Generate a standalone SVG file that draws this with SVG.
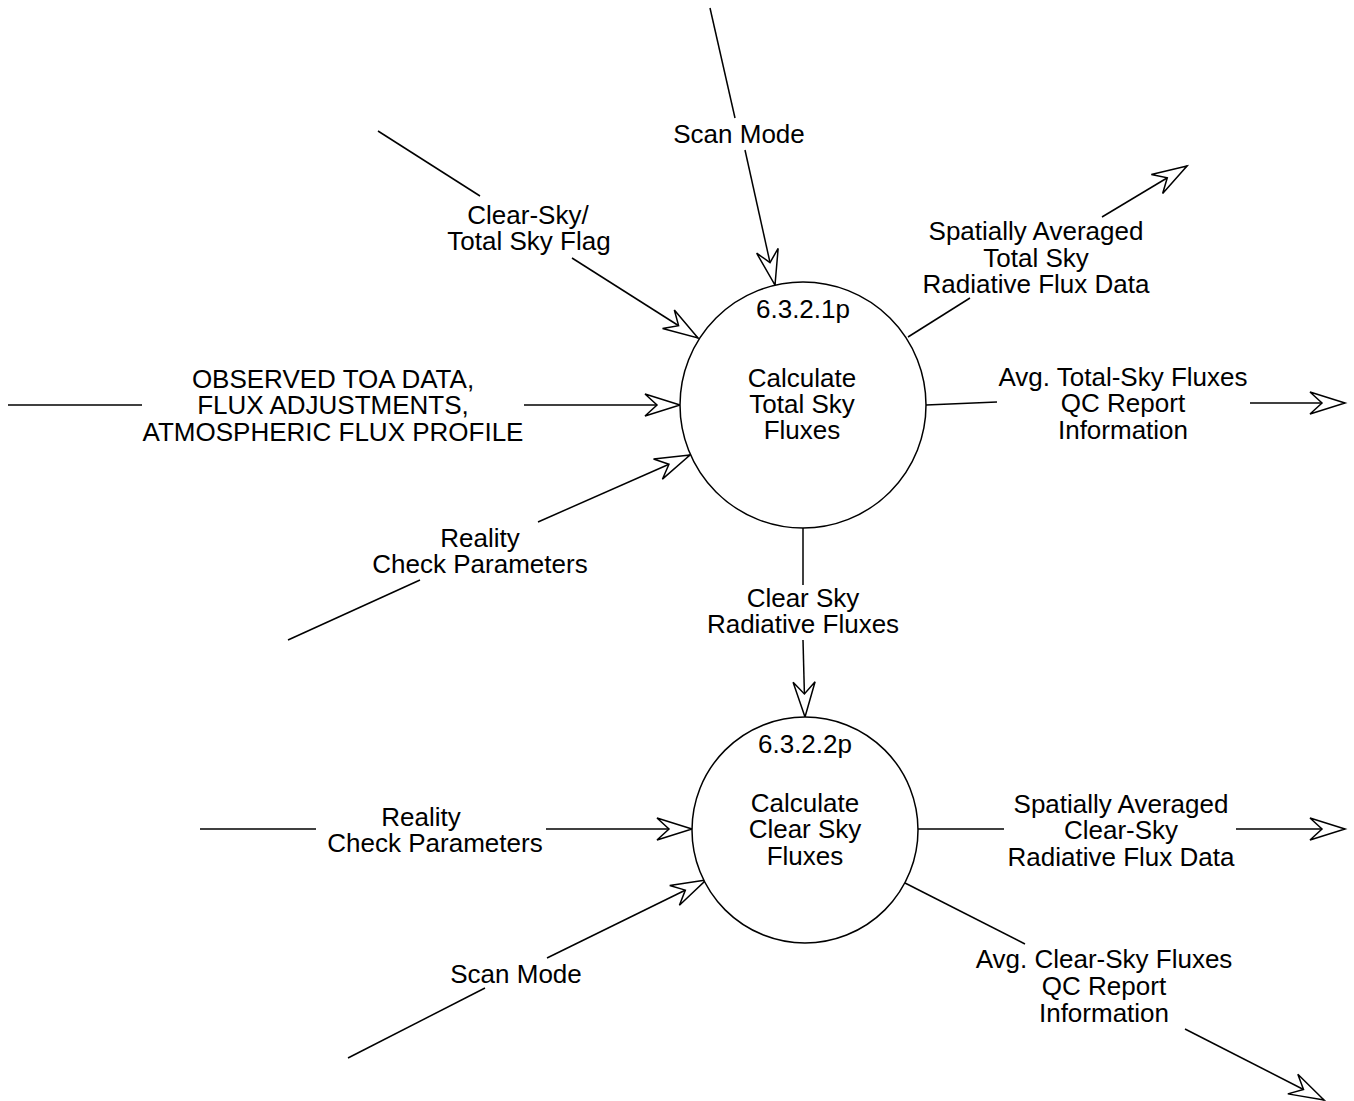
<svg xmlns="http://www.w3.org/2000/svg" width="1354" height="1101" viewBox="0 0 1354 1101">
<style>
  .ln { stroke: #000; stroke-width: 1.5; fill: none; }
  .arr { marker-end: url(#ah); }
  .node { stroke: #000; stroke-width: 1.5; fill: #fff; }
  text { font-family: "Liberation Sans", Arial, sans-serif; font-size: 26px; fill: #000; text-anchor: middle; }
</style>
<defs>
  <marker id="ah" markerUnits="userSpaceOnUse" viewBox="-37 -12 39 24" refX="0" refY="0" markerWidth="39" markerHeight="24" orient="auto" overflow="visible">
    <path d="M0,0 L-35,-11 L-23,0 L-35,11 Z" fill="#fff" stroke="#000" stroke-width="1.5" stroke-linejoin="miter"/>
  </marker>
</defs>
<rect width="1354" height="1101" fill="#fff"/>

<g id="connectors">
  <line class="ln" x1="710" y1="8" x2="735" y2="118"/>
  <line class="ln arr" x1="745" y1="150" x2="775" y2="285"/>
  <line class="ln" x1="378" y1="131" x2="480" y2="196"/>
  <line class="ln arr" x1="572" y1="258" x2="698" y2="338"/>
  <line class="ln" x1="8" y1="405" x2="142" y2="405"/>
  <line class="ln arr" x1="524" y1="405" x2="680" y2="405"/>
  <line class="ln" x1="288" y1="640" x2="420" y2="580"/>
  <line class="ln arr" x1="538" y1="522" x2="690" y2="455"/>
  <line class="ln" x1="908" y1="337" x2="970" y2="298"/>
  <line class="ln arr" x1="1102" y1="217" x2="1187" y2="166"/>
  <line class="ln" x1="926" y1="405" x2="997" y2="402"/>
  <line class="ln arr" x1="1250" y1="403" x2="1345" y2="403"/>
  <line class="ln" x1="803" y1="528" x2="803" y2="585"/>
  <line class="ln arr" x1="803" y1="640" x2="805" y2="717"/>
  <line class="ln" x1="200" y1="829" x2="316" y2="829"/>
  <line class="ln arr" x1="546" y1="829" x2="692" y2="829"/>
  <line class="ln" x1="348" y1="1058" x2="485" y2="988"/>
  <line class="ln arr" x1="547" y1="958" x2="706" y2="880"/>
  <line class="ln" x1="918" y1="829" x2="1004" y2="829"/>
  <line class="ln arr" x1="1236" y1="829" x2="1345" y2="829"/>
  <line class="ln" x1="905" y1="883" x2="1025" y2="944"/>
  <line class="ln arr" x1="1185" y1="1029" x2="1324" y2="1100"/>
</g>

<g id="labels">
  <text x="739" y="143">Scan Mode</text>
  <text x="528" y="224">Clear-Sky/</text>
  <text x="529" y="250">Total Sky Flag</text>
  <text x="333" y="388">OBSERVED TOA DATA,</text>
  <text x="333" y="414">FLUX ADJUSTMENTS,</text>
  <text x="333" y="441">ATMOSPHERIC FLUX PROFILE</text>
  <text x="480" y="547">Reality</text>
  <text x="480" y="573">Check Parameters</text>
  <text x="1036" y="240">Spatially Averaged</text>
  <text x="1036" y="267">Total Sky</text>
  <text x="1036" y="293">Radiative Flux Data</text>
  <text x="1123" y="386">Avg. Total-Sky Fluxes</text>
  <text x="1123" y="412">QC Report</text>
  <text x="1123" y="439">Information</text>
  <text x="803" y="607">Clear Sky</text>
  <text x="803" y="633">Radiative Fluxes</text>
  <text x="421" y="826">Reality</text>
  <text x="435" y="852">Check Parameters</text>
  <text x="516" y="983">Scan Mode</text>
  <text x="1121" y="813">Spatially Averaged</text>
  <text x="1121" y="839">Clear-Sky</text>
  <text x="1121" y="866">Radiative Flux Data</text>
  <text x="1104" y="968">Avg. Clear-Sky Fluxes</text>
  <text x="1104" y="995">QC Report</text>
  <text x="1104" y="1022">Information</text>
</g>

<g id="node-6.3.2.1p">
  <circle class="node" cx="803" cy="405" r="123"/>
  <text x="803" y="318">6.3.2.1p</text>
  <text x="802" y="387">Calculate</text>
  <text x="802" y="413">Total Sky</text>
  <text x="802" y="439">Fluxes</text>
</g>

<g id="node-6.3.2.2p">
  <circle class="node" cx="805" cy="830" r="113"/>
  <text x="805" y="753">6.3.2.2p</text>
  <text x="805" y="812">Calculate</text>
  <text x="805" y="838">Clear Sky</text>
  <text x="805" y="865">Fluxes</text>
</g>
</svg>
